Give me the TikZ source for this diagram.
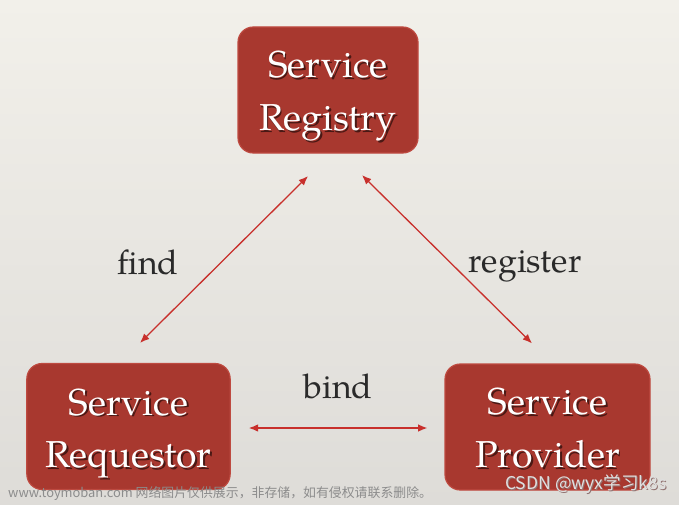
\documentclass[tikz,border=0pt]{standalone}
\usepackage{fontspec}
\setmainfont{TeX Gyre Pagella}
\newfontfamily\cjkfont{Noto Sans CJK SC}
\usepackage{xcolor}
\usetikzlibrary{arrows.meta,positioning,calc}
\definecolor{cBgTop}{HTML}{F2F0EA}
\definecolor{cBgBot}{HTML}{DEDCD8}
\definecolor{cRed}{HTML}{A8382F}
\definecolor{cRedE}{HTML}{BE4A40}
\definecolor{cShadow}{HTML}{4A1814}
\definecolor{cArrow}{HTML}{C8302C}
\definecolor{cInk}{HTML}{2A2A2A}
\definecolor{cMark}{HTML}{8C8C8C}
\tikzset{
  svc/.style={draw=cRedE,fill=cRed,rounded corners=13pt,line width=1pt,minimum height=3.78cm},
  svctxt/.style={text=white,align=center,font=\fontsize{32}{45}\selectfont,inner sep=0pt},
  svcshd/.style={svctxt,text=cShadow},
  dbl/.style={{Latex[length=8pt,width=6.5pt]}-{Latex[length=8pt,width=6.5pt]},line width=1.1pt,color=cArrow},
  lbl/.style={font=\fontsize{29}{34}\selectfont,text=cInk,inner sep=0pt},
}

\begin{document}
\begin{tikzpicture}[x=0.03cm,y=-0.03cm,
    wm/.style={font=\cjkfont\fontsize{11}{13}\selectfont,text=cMark,inner sep=0pt,anchor=west}]
  % background
  \useasboundingbox (0,0) rectangle (679,504);
  \shade[top color=cBgTop,bottom color=cBgBot] (0,0) rectangle (679,504);
  % boxes
  \node[svc,minimum width=5.4cm] (reg) at (328,90) {};
  \node[svc,minimum width=6.1cm] (req) at (128.5,426.5) {};
  \node[svc,minimum width=6.15cm] (prov) at (547.5,427) {};
  % box texts (shadow first)
  \node[svcshd] (regS) at ([shift={(1.8,7.8)}]reg.center) {Service\\Registry};
  \node[svctxt] (regT) at ([shift={(0,6)}]reg.center) {Service\\Registry};
  \node[svcshd] (reqS) at ([shift={(1.8,8.8)}]req.center) {Service\\Requestor};
  \node[svctxt] (reqT) at ([shift={(0,7)}]req.center) {Service\\Requestor};
  \node[svcshd] (provS) at ([shift={(1.8,2.8)}]prov.center) {Service\\Provider};
  \node[svctxt] (provT) at ([shift={(0,1)}]prov.center) {Service\\Provider};
  % connectors
  \draw[dbl] ([shift={(-20,22.5)}]reg.south) -- ([shift={(11.5,-20)}]req.north);
  \draw[dbl] ([shift={(34,21.5)}]reg.south) -- ([shift={(-15.5,-20)}]prov.north);
  \draw[dbl] ([shift={(18,1.5)}]req.east) -- ([shift={(-17,1)}]prov.west);
  % labels
  \node[lbl] (lFind) at (148,262) {find};
  \node[lbl] (lReg) at (525,266) {register};
  \node[lbl] (lBind) at (338,386) {bind};
  % watermarks
  \node[wm] (wmSite) at (8,494) {www.toymoban.com 网络图片仅供展示，非存储，如有侵权请联系删除。};
  \node[wm,font=\cjkfont\fontsize{15}{17}\selectfont,text=cShadow!60] (wmCsdnS) at (506,485) {CSDN @wyx学习k8s};
  \node[wm,font=\cjkfont\fontsize{15}{17}\selectfont,text=white!88!black] (wmCsdn) at (505,484) {CSDN @wyx学习k8s};
\end{tikzpicture}
\end{document}
